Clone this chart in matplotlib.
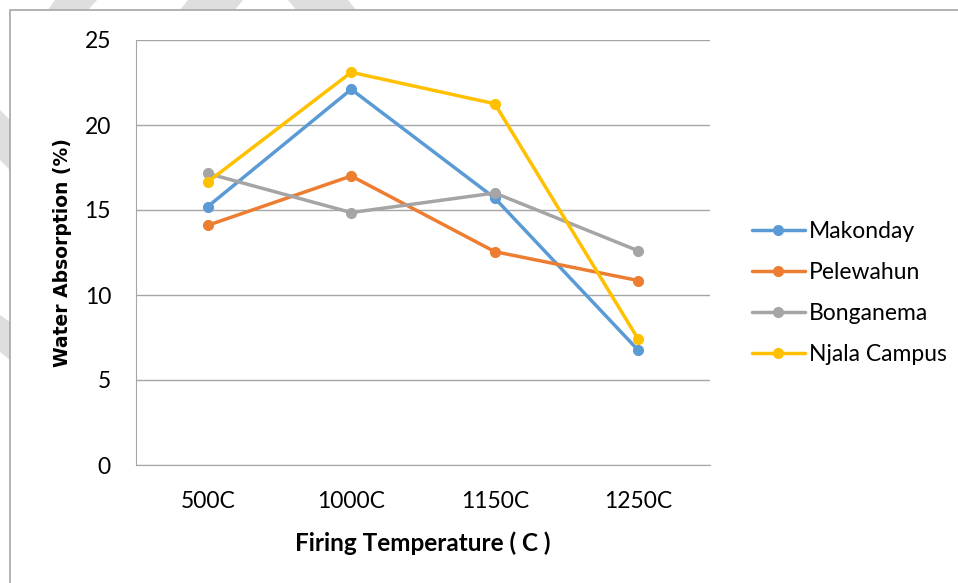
import matplotlib.pyplot as plt
from matplotlib.patches import Polygon, Rectangle

temps = ['500C', '1000C', '1150C', '1250C']
makonday = [15.2, 22.1, 15.7, 6.75]
pelewahun = [14.1, 17.0, 12.55, 10.85]
bonganema = [17.15, 14.85, 16.0, 12.6]
njala = [16.65, 23.1, 21.25, 7.4]

series = [
	('Makonday', makonday, '#5b9bd5'),
	('Pelewahun', pelewahun, '#ed7d31'),
	('Bonganema', bonganema, '#a5a5a5'),
	('Njala Campus', njala, '#ffc000'),
]

W, H = 958, 583
plt.rcParams['font.family'] = ['Lato', 'DejaVu Sans']

fig = plt.figure(figsize=(W / 100, H / 100), dpi=100)

def px(x, y):
	return (x / W, 1 - y / H)

# faint watermark stripes around the chart frame
stripes = [
	[(55, 0), (97, 0), (88, 10), (48, 10)],
	[(188, 0), (243, 0), (235, 10), (180, 10)],
	[(288, 0), (348, 0), (356, 10), (296, 10)],
	[(0, 110), (10, 120), (10, 170), (0, 160)],
	[(0, 315), (10, 322), (10, 360), (0, 352)],
]
for s in stripes:
	fig.patches.append(Polygon([px(*p) for p in s], closed=True, transform=fig.transFigure,
		facecolor='#dedede', edgecolor='none', zorder=-3))

# chart frame
x0, y0 = px(10, 10)
fig.patches.append(Rectangle((x0, -0.1), 1.1, y0 + 0.1, transform=fig.transFigure,
	facecolor='white', edgecolor='#a6a6a6', linewidth=1.2, zorder=-2))

left, top, right, bottom = 136, 40, 710, 465
ax = fig.add_axes([left / W, 1 - bottom / H, (right - left) / W, (bottom - top) / H])
ax.set_facecolor('none')

xs = range(len(temps))
for name, vals, col in series:
	ax.plot(xs, vals, color=col, linewidth=2.5, marker='o', markersize=7, label=name,
		solid_capstyle='round', clip_on=False)

ax.set_xlim(-0.5, len(temps) - 0.5)
ax.set_ylim(0, 25)
ax.set_yticks(range(0, 26, 5))
ax.set_xticks(list(xs))
ax.set_xticklabels(temps)
ax.yaxis.grid(True, color='#a6a6a6', linewidth=1.0)
ax.set_axisbelow(True)
for sp in ['top', 'right']:
	ax.spines[sp].set_visible(False)
ax.spines['bottom'].set_color('#a6a6a6')
ax.spines['left'].set_color('#a6a6a6')
ax.tick_params(axis='both', length=0, labelsize=16.5, colors='black')
ax.tick_params(axis='y', pad=18)
ax.tick_params(axis='x', pad=19)

ax.set_xlabel('Firing Temperature ( C )', fontsize=17.5, fontweight='bold', labelpad=14)
ax.set_ylabel('Water Absorption (%)', fontsize=13.5, fontweight='bold', labelpad=9,
	family='DejaVu Sans')

ax.legend(loc='center left', bbox_to_anchor=(752 / W, 1 - 293 / H), bbox_transform=fig.transFigure,
	frameon=False, fontsize=16.5, handlelength=2.3, labelspacing=0.87, handletextpad=0.2,
	borderpad=0, borderaxespad=0)

plt.savefig('out.png', dpi=100)
